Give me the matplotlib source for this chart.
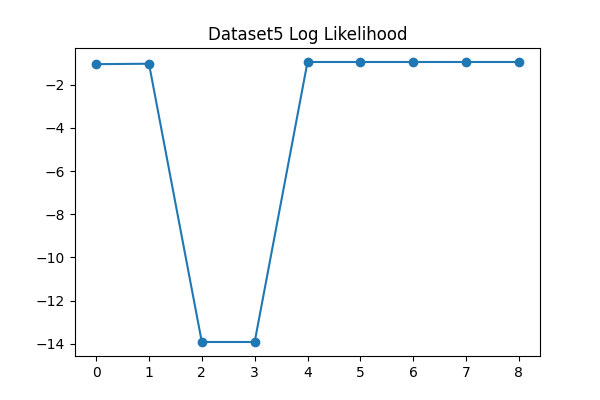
import matplotlib
matplotlib.use("Agg")
import matplotlib.pyplot as plt

iterations = [0, 1, 2, 3, 4, 5, 6, 7, 8]
log_likelihood = [-1.05, -1.03, -13.92, -13.92, -0.95, -0.95, -0.95, -0.95, -0.95]

fig, ax = plt.subplots(figsize=(6, 4), dpi=100)
ax.plot(iterations, log_likelihood, '-o')
ax.set_title("Dataset5 Log Likelihood")
fig.savefig("out.png")
